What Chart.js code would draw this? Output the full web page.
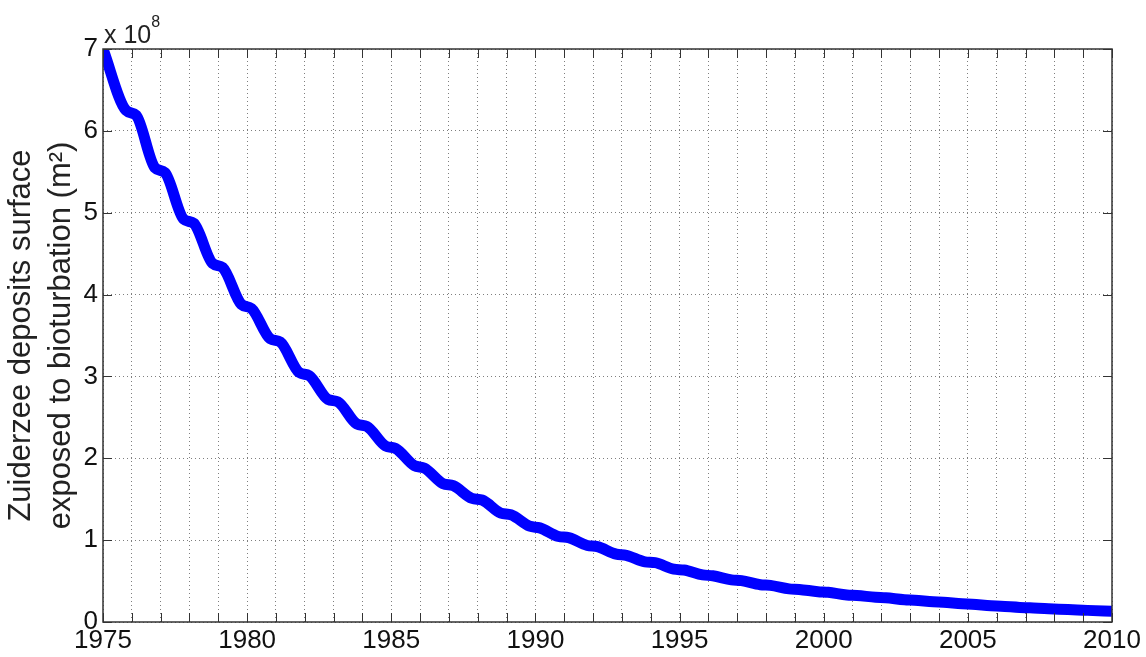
<!DOCTYPE html>
<html>
<head>
<meta charset="utf-8">
<script src="https://cdn.jsdelivr.net/npm/chart.js@4"></script>
<style>
  body { margin: 0; background: #fff; }
  #wrap { width: 1146px; height: 657px; position: relative; }
</style>
</head>
<body>
<div id="wrap"><canvas id="surfaceChart"></canvas></div>
<script>
// values in units of 10^8 m2
const startYear = 1975;
const startValue = 7.0;
const endYear = 2010;
const endValue = 0.13;

// each year the curve flattens around the turn of the year
const plateauYears = [1976, 1977, 1978, 1979, 1980, 1981, 1982, 1983, 1984, 1985,
  1986, 1987, 1988, 1989, 1990, 1991, 1992, 1993, 1994, 1995,
  1996, 1997, 1998, 1999, 2000, 2001, 2002, 2003, 2004, 2005,
  2006, 2007, 2008, 2009];
const plateauStart = [6.25, 5.55, 4.92, 4.38, 3.88, 3.46, 3.05, 2.72, 2.42, 2.15,
  1.91, 1.69, 1.51, 1.33, 1.17, 1.045, 0.935, 0.83, 0.735, 0.645,
  0.575, 0.515, 0.455, 0.405, 0.37, 0.33, 0.302, 0.272, 0.247, 0.222,
  0.198, 0.178, 0.161, 0.146];
const plateauEnd = [6.19, 5.49, 4.87, 4.33, 3.83, 3.42, 3.01, 2.69, 2.39, 2.12,
  1.88, 1.665, 1.49, 1.31, 1.15, 1.03, 0.92, 0.815, 0.725, 0.635,
  0.565, 0.505, 0.447, 0.398, 0.363, 0.324, 0.296, 0.267, 0.242, 0.217,
  0.193, 0.173, 0.157, 0.142];

const yTicks = [0, 1, 2, 3, 4, 5, 6, 7];
const xLabelYears = [1975, 1980, 1985, 1990, 1995, 2000, 2005, 2010];

const FONT = "'Liberation Sans', Arial, Helvetica, sans-serif";

const points = [{ x: startYear, y: startValue }];
plateauYears.forEach((yr, i) => {
  points.push({ x: yr - 0.2, y: plateauStart[i] });
  points.push({ x: yr + 0.15, y: plateauEnd[i] });
});
points.push({ x: endYear, y: endValue });

// matlab style box, inward ticks and the x 10^8 factor
const matlabAxes = {
  id: 'matlabAxes',
  afterDatasetsDraw(chart) {
    const { ctx, chartArea: a, scales } = chart;
    const len = 9;
    ctx.save();
    ctx.strokeStyle = '#333';
    ctx.lineWidth = 1;
    ctx.beginPath();
    scales.x.ticks.forEach(t => {
      const px = Math.round(scales.x.getPixelForValue(t.value)) + 0.5;
      ctx.moveTo(px, a.bottom); ctx.lineTo(px, a.bottom - len);
      ctx.moveTo(px, a.top); ctx.lineTo(px, a.top + len);
    });
    scales.y.ticks.forEach(t => {
      const py = Math.round(scales.y.getPixelForValue(t.value)) + 0.5;
      ctx.moveTo(a.left, py); ctx.lineTo(a.left + len, py);
      ctx.moveTo(a.right, py); ctx.lineTo(a.right - len, py);
    });
    ctx.stroke();
    ctx.lineWidth = 1.5;
    ctx.strokeRect(a.left, a.top, a.right - a.left, a.bottom - a.top);

    ctx.fillStyle = '#222';
    ctx.textBaseline = 'alphabetic';
    ctx.textAlign = 'left';
    ctx.font = '25px ' + FONT;
    ctx.fillText('x 10', a.left + 1, a.top - 6);
    const w = ctx.measureText('x 10').width;
    ctx.font = '16px ' + FONT;
    ctx.fillText('8', a.left + 1 + w, a.top - 22);
    ctx.restore();
  }
};

new Chart(document.getElementById('surfaceChart'), {
  type: 'line',
  data: {
    datasets: [{
      data: points,
      borderColor: '#0000ff',
      backgroundColor: '#0000ff',
      borderWidth: 11,
      pointRadius: 0,
      cubicInterpolationMode: 'monotone',
      clip: 0,
      fill: false
    }]
  },
  options: {
    responsive: true,
    maintainAspectRatio: false,
    animation: false,
    layout: { padding: { top: 49, right: 34, bottom: 0, left: 0 } },
    plugins: { legend: { display: false }, tooltip: { enabled: false } },
    scales: {
      x: {
        type: 'linear',
        min: startYear,
        max: endYear,
        afterFit: (s) => { s.height = 35; },
        grid: { color: 'rgba(0,0,0,0.5)', lineWidth: 1, drawTicks: false },
        border: { display: false, dash: [1, 3] },
        ticks: {
          stepSize: 1,
          autoSkip: false,
          maxRotation: 0,
          padding: 3,
          color: '#111',
          font: { family: FONT, size: 26 },
          callback: (v) => xLabelYears.includes(v) ? String(v) : ''
        }
      },
      y: {
        min: yTicks[0],
        max: yTicks[yTicks.length - 1],
        afterFit: (s) => { s.width = 103; },
        grid: { color: 'rgba(0,0,0,0.5)', lineWidth: 1, drawTicks: false },
        border: { display: false, dash: [1, 3] },
        ticks: {
          stepSize: 1,
          padding: 5,
          color: '#111',
          font: { family: FONT, size: 26 },
          callback: (v) => yTicks.includes(v) ? String(v) : ''
        },
        title: {
          display: true,
          text: ['Zuiderzee deposits surface', 'exposed to bioturbation (m\u00b2)'],
          color: '#222',
          font: { family: FONT, size: 31, lineHeight: 1.29 },
          padding: { top: 1, bottom: 0 }
        }
      }
    }
  },
  plugins: [matlabAxes]
});
</script>
</body>
</html>
